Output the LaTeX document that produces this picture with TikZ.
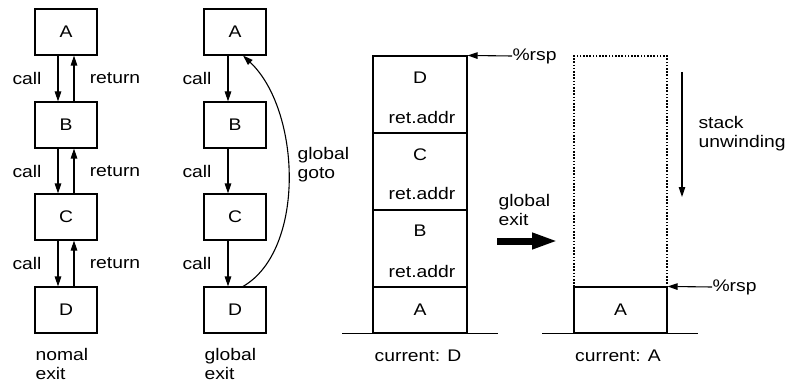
\documentclass[tikz,border=0pt]{standalone}
\usepackage{fontspec}
\setmainfont{Liberation Sans}[FakeStretch=1.15]
\usetikzlibrary{arrows.meta}

\begin{document}
\begin{tikzpicture}[x=1pt,y=-1pt,
  every node/.style={font=\fontsize{16.8}{19}\selectfont, inner sep=0pt},
  line width=1.1pt,
  arr/.style={-{Triangle[length=10pt,width=6.5pt]}},
  box/.style={draw, minimum width=62pt, minimum height=46pt},
  frame/.style={draw, minimum width=94pt},
  multi/.style={align=left, anchor=west},
  fat/.style={line width=7pt, -{Triangle[length=26pt,width=15pt]}}]
\useasboundingbox (0,0) rectangle (787,385);

% normal call chain
\node[box] (A1) at (66,32)  {A};
\node[box] (B1) at (66,125) {B};
\node[box] (C1) at (66,217) {C};
\node[box] (D1) at (66,310) {D};
\foreach \u/\v in {A1/B1,B1/C1,C1/D1}{
  \draw[arr] ([xshift=-8pt]\u.south) -- ([xshift=-8pt]\v.north);
  \draw[arr] ([xshift=8pt]\v.north) -- ([xshift=8pt]\u.south);
}
\foreach \y in {78.5,171,263.5}{
  \node at (27,\y) {call};
  \node at (115,\y) {return};
}
\node[multi] (n1) at (35,364) {nomal\\exit};

% call chain left by a global goto
\node[box] (A2) at (235,32)  {A};
\node[box] (B2) at (235,125) {B};
\node[box] (C2) at (235,217) {C};
\node[box] (D2) at (235,310) {D};
\foreach \u/\v in {A2/B2,B2/C2,C2/D2}
  \draw[arr] ([xshift=-7pt]\u.south) -- ([xshift=-7pt]\v.north);
\foreach \y in {78.5,171,263.5}
  \node at (197,\y) {call};
\draw[arr] ([xshift=8pt]D2.north) .. controls (306,250) and (301,110) .. ([xshift=8pt]A2.south);
\node[multi] (gg) at (297,165) {global\\goto};
\node[multi] (n2) at (204,364) {global\\exit};

% stack while D runs
\node[frame, minimum height=77pt] (fD) at (420,94.5)  {};
\node[frame, minimum height=77pt] (fC) at (420,171.5) {};
\node[frame, minimum height=77pt] (fB) at (420,248.5) {};
\node[frame, minimum height=46pt] (fA) at (420,310)   {A};
\node at (420,78)  {D};
\node at (422,117) {ret.addr};
\node at (420,155) {C};
\node at (422,193) {ret.addr};
\node at (420,231) {B};
\node at (422,271) {ret.addr};
\draw ([xshift=-30pt]fA.south west) -- ([xshift=30pt]fA.south east);
\coordinate (rsp1) at (512,56);
\draw[arr] (rsp1) -- (fD.north east);
\node[anchor=west] at (rsp1) {\%rsp};
\node (cd) at (418,356) {current: D};

% global exit
\coordinate (ge1) at (497,241);
\coordinate (ge2) at (558,241);
\draw[fat] (ge1) -- (ge2);
\node[multi] (gx) at (498,210) {global\\exit};

% stack after unwinding
\node[frame, minimum width=93pt, minimum height=231pt, dash pattern=on 1.6pt off 1.6pt, line width=1.1pt] (gone) at (620.5,171.5) {};
\node[frame, minimum width=93pt, minimum height=46pt] (fA2) at (620.5,310) {A};
\draw ([xshift=-31pt]fA2.south west) -- ([xshift=30pt]fA2.south east);
\coordinate (rsp2) at (712,287);
\draw[arr] (rsp2) -- (fA2.north east);
\node[anchor=west] at (rsp2) {\%rsp};
\coordinate (uw1) at (682,72);
\coordinate (uw2) at (682,197);
\draw[arr] (uw1) -- (uw2);
\node[multi] (su) at (698,134) {stack\\unwinding};
\node (ca) at (618,356) {current: A};
\end{tikzpicture}
\end{document}
